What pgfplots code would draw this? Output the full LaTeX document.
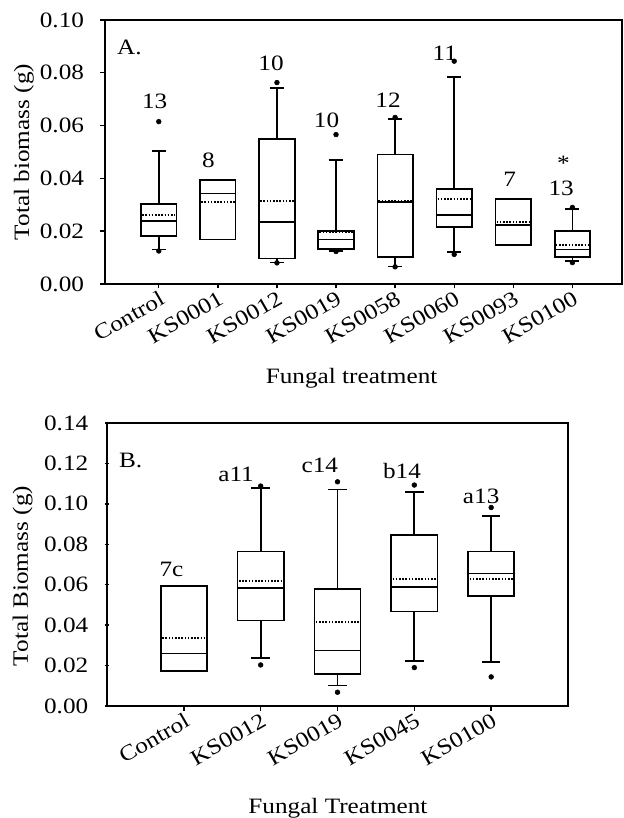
\documentclass[border=0pt]{standalone}
\usepackage{fontspec}
\setmainfont{Liberation Serif}[FakeStretch=1.15]
\usepackage{pgfplots}
\usepgfplotslibrary{statistics}
\pgfplotsset{compat=1.18}
\newcommand{\fs}{\fontsize{22}{26}\selectfont}
\tikzset{lab/.style={font=\fs, inner sep=0pt, anchor=center}}
\pgfplotsset{
  bx/.style={black, line width=1.7bp, mark=*, mark size=2.4bp, mark options={solid, fill=black, line width=0.5bp},
    boxplot/draw direction=y, boxplot/box extend=0.6, boxplot/whisker extend=0.24,
    boxplot/every box/.style={line width=1.7bp},
    boxplot/every whisker/.style={line width=1.7bp},
    boxplot/every median/.style={line width=1.4bp},
    boxplot/draw/average/.code={\draw[line width=2bp, dash pattern=on 1.6bp off 1.6bp]
      (boxplot box cs:\pgfplotsboxplotvalue{average},0.03) -- (boxplot box cs:\pgfplotsboxplotvalue{average},0.97);},
  },
  panel/.style={
    scale only axis, anchor=south west,
    axis line style={line width=1.4bp},
    tick align=outside, tick pos=left,
    major tick style={line width=1.4bp, black},
    major tick length=4.5bp,
    scaled y ticks=false,
    /pgf/number format/assume math mode=true,
    yticklabel style={/pgf/number format/fixed, /pgf/number format/fixed zerofill, /pgf/number format/precision=2, xshift=-13bp},
    ticklabel style={font=\fs},
    label style={font=\fs},
    xticklabel style={rotate=30, anchor=north east, inner sep=1bp},
  },
}
\begin{document}
\begin{tikzpicture}
\path[use as bounding box] (0,0) rectangle (624bp,818bp);
% ---------------- Panel A ----------------
\begin{axis}[panel,
  at={(105bp,534bp)}, width=517bp, height=264bp,
  xmin=-0.91, xmax=7.84, ymin=0, ymax=0.10,
  xtick={0,1,2,3,4,5,6,7},
  xticklabels={Control,KS0001,KS0012,KS0019,KS0058,KS0060,KS0093,KS0100},
  ytick={0,0.02,0.04,0.06,0.08,0.1},
  xlabel={Fungal treatment},
  ylabel={Total biomass (g)},
  xlabel style={at={(axis description cs:0.477,-0.356)}, anchor=center},
  ylabel style={at={(axis description cs:-0.157,0.5)}, anchor=center},
]
\addplot[bx, boxplot prepared={draw position=0, lower whisker=0.0131, lower quartile=0.0182, median=0.0239, upper quartile=0.0304, upper whisker=0.0505, average=0.0260}]
  table[row sep=\\, y index=0] {data\\ 0.0615\\ 0.0125\\};
\addplot[bx, boxplot prepared={draw position=1, lower whisker=0.0169, lower quartile=0.0169, median=0.0342, upper quartile=0.0395, upper whisker=0.0395, average=0.0311}]
  coordinates {};
\addplot[bx, boxplot prepared={draw position=2, lower whisker=0.0081, lower quartile=0.0096, median=0.0235, upper quartile=0.0550, upper whisker=0.0742, average=0.0314}]
  table[row sep=\\, y index=0] {data\\ 0.0763\\ 0.0080\\};
\addplot[bx, boxplot prepared={draw position=3, lower whisker=0.0125, lower quartile=0.0133, median=0.0169, upper quartile=0.0201, upper whisker=0.0470, average=0.0197}]
  table[row sep=\\, y index=0] {data\\ 0.0566\\ 0.0123\\};
\addplot[bx, boxplot prepared={draw position=4, lower whisker=0.0066, lower quartile=0.0102, median=0.0311, upper quartile=0.0490, upper whisker=0.0624, average=0.0313}]
  table[row sep=\\, y index=0] {data\\ 0.0631\\ 0.0065\\};
\addplot[bx, boxplot prepared={draw position=5, lower whisker=0.0122, lower quartile=0.0216, median=0.0261, upper quartile=0.0361, upper whisker=0.0784, average=0.0322}]
  table[row sep=\\, y index=0] {data\\ 0.0844\\ 0.0112\\};
\addplot[bx, boxplot prepared={draw position=6, lower whisker=0.0148, lower quartile=0.0148, median=0.0223, upper quartile=0.0323, upper whisker=0.0323, average=0.0236}]
  coordinates {};
\addplot[bx, boxplot prepared={draw position=7, lower whisker=0.0088, lower quartile=0.0102, median=0.0130, upper quartile=0.0200, upper whisker=0.0283, average=0.0148}]
  table[row sep=\\, y index=0] {data\\ 0.0290\\ 0.0081\\};
\node[lab, anchor=west] at (axis description cs:0.023,0.898) {A.};
\node[lab] at (axis cs:-0.07,0.0690) {13};
\node[lab] at (axis cs:0.84,0.0470) {8};
\node[lab] at (axis cs:1.90,0.0836) {10};
\node[lab] at (axis cs:2.84,0.0621) {10};
\node[lab] at (axis cs:3.88,0.0697) {12};
\node[lab] at (axis cs:4.84,0.0874) {11};
\node[lab] at (axis cs:5.94,0.0397) {7};
\node[lab] at (axis cs:6.85,0.0457) {*};
\node[lab] at (axis cs:6.81,0.0362) {13};
\end{axis}
% ---------------- Panel B ----------------
\begin{axis}[panel,
  at={(107bp,112bp)}, width=461bp, height=283bp,
  xmin=-1, xmax=5, ymin=0, ymax=0.14,
  ytick align=center,
  xtick={0,1,2,3,4},
  xticklabels={Control,KS0012,KS0019,KS0045,KS0100},
  ytick={0,0.02,0.04,0.06,0.08,0.1,0.12,0.14},
  xlabel={Fungal Treatment},
  ylabel={Total Biomass (g)},
  xlabel style={at={(axis description cs:0.501,-0.360)}, anchor=center},
  ylabel style={at={(axis description cs:-0.183,0.459)}, anchor=center},
]
\addplot[bx, boxplot prepared={draw position=0, lower whisker=0.0174, lower quartile=0.0174, median=0.0261, upper quartile=0.0595, upper whisker=0.0595, average=0.0336}]
  coordinates {};
\addplot[bx, boxplot prepared={draw position=1, lower whisker=0.0237, lower quartile=0.0423, median=0.0583, upper quartile=0.0764, upper whisker=0.1080, average=0.0618}]
  table[row sep=\\, y index=0] {data\\ 0.1088\\ 0.0203\\};
\addplot[bx, boxplot prepared={draw position=2, lower whisker=0.0101, lower quartile=0.0160, median=0.0274, upper quartile=0.0580, upper whisker=0.1071, average=0.0417}]
  table[row sep=\\, y index=0] {data\\ 0.1109\\ 0.0068\\};
\addplot[bx, boxplot prepared={draw position=3, lower whisker=0.0223, lower quartile=0.0468, median=0.0588, upper quartile=0.0845, upper whisker=0.1058, average=0.0628}]
  table[row sep=\\, y index=0] {data\\ 0.1093\\ 0.0190\\};
\addplot[bx, boxplot prepared={draw position=4, lower whisker=0.0217, lower quartile=0.0544, median=0.0656, upper quartile=0.0764, upper whisker=0.0939, average=0.0630}]
  table[row sep=\\, y index=0] {data\\ 0.0982\\ 0.0144\\};
\node[lab, anchor=west] at (axis description cs:0.026,0.869) {B.};
\node[lab] at (axis cs:-0.16,0.0675) {7c};
\node[lab] at (axis cs:0.68,0.1146) {a11};
\node[lab] at (axis cs:1.77,0.1188) {c14};
\node[lab] at (axis cs:2.84,0.1163) {b14};
\node[lab] at (axis cs:3.87,0.1039) {a13};
\end{axis}
\end{tikzpicture}
\end{document}
